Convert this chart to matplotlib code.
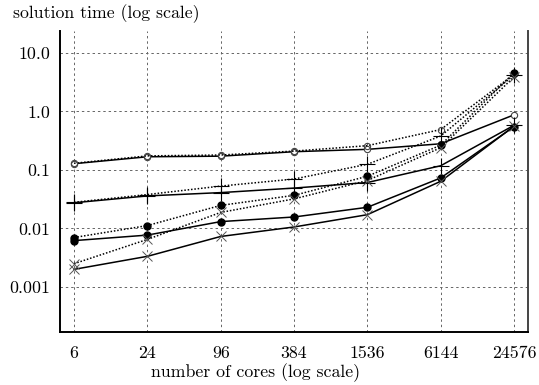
import matplotlib
matplotlib.use("Agg")
import matplotlib.pyplot as plt
from matplotlib.ticker import NullLocator

plt.rcParams["font.family"] = ["cmr10", "DejaVu Serif"]
plt.rcParams["axes.formatter.use_mathtext"] = True

CORES = [6, 24, 96, 384, 1536, 6144, 24576]
CORE_LABELS = ["6", "24", "96", "384", "1536", "6144", "24576"]
Y_TICKS = [0.001, 0.01, 0.1, 1.0, 10.0]
Y_LABELS = ["0.001", "0.01", "0.1", "1.0", "10.0"]

# solid lines
circle_open_solid = [0.128, 0.168, 0.172, 0.205, 0.225, 0.28, 0.875]
plus_solid = [0.0275, 0.036, 0.041, 0.049, 0.061, 0.118, 0.58]
circle_filled_solid = [0.0062, 0.0077, 0.0131, 0.0157, 0.023, 0.073, 0.55]
cross_solid = [0.002, 0.00334, 0.0073, 0.0106, 0.0172, 0.064, 0.56]

# dotted lines
circle_open_dotted = [0.13, 0.174, 0.18, 0.21, 0.26, 0.49, 4.3]
plus_dotted = [0.028, 0.038, 0.053, 0.07, 0.125, 0.38, 4.2]
circle_filled_dotted = [0.007, 0.0112, 0.0248, 0.0368, 0.078, 0.265, 4.6]
cross_dotted = [0.0025, 0.0065, 0.0188, 0.032, 0.066, 0.24, 3.9]

FONT_SIZE = 12.8

fig = plt.figure(figsize=(5.39, 3.85), dpi=100)
ax = fig.add_axes([60 / 539, 1 - 332 / 385, 468 / 539, 301 / 385])

ax.set_xscale("log")
ax.set_yscale("log")

line_kw = dict(color="black", linewidth=1.1)
dot_kw = dict(color="black", linewidth=1.1, linestyle=(0, (1, 1.2)))

ax.plot(CORES, circle_open_solid, marker="o", markersize=4.5, markerfacecolor="white",
        markeredgecolor="#444444", markeredgewidth=0.8, **line_kw)
ax.plot(CORES, circle_open_dotted, marker="o", markersize=4.5, markerfacecolor="none",
        markeredgecolor="#444444", markeredgewidth=0.8, **dot_kw)
ax.plot(CORES, plus_solid, marker="+", markersize=11, markeredgewidth=0.8, **line_kw)
ax.plot(CORES, plus_dotted, marker="+", markersize=11, markeredgewidth=0.8, **dot_kw)
ax.plot(CORES, circle_filled_solid, marker="o", markersize=5, **line_kw)
ax.plot(CORES, circle_filled_dotted, marker="o", markersize=5, **dot_kw)
ax.plot(CORES, cross_solid, marker="x", markersize=7, markeredgewidth=0.7,
        markeredgecolor="#555555", **line_kw)
ax.plot(CORES, cross_dotted, marker="x", markersize=7, markeredgewidth=0.7,
        markeredgecolor="#555555", **dot_kw)

ax.set_xlim(4.6, 32000)
ax.set_ylim(0.00017, 23.7)

ax.set_xticks(CORES, CORE_LABELS)
ax.set_yticks(Y_TICKS, Y_LABELS)
ax.xaxis.set_minor_locator(NullLocator())
ax.yaxis.set_minor_locator(NullLocator())
ax.tick_params(axis="both", length=0, labelsize=FONT_SIZE)
ax.tick_params(axis="x", pad=10)
ax.tick_params(axis="y", pad=7)

ax.grid(True, color="#666666", linewidth=0.7, linestyle=(0, (2.5, 3)))
ax.set_axisbelow(True)

ax.spines["top"].set_visible(False)
for side in ("left", "bottom", "right"):
    ax.spines[side].set_linewidth(1.4)
ax.spines["right"].set_color("#444444")

fig.text(13 / 539, 1 - 14 / 385, "solution time (log scale)", ha="left", va="center",
         fontsize=FONT_SIZE)
fig.text(256 / 539, 1 - 373 / 385, "number of cores (log scale)", ha="center",
         va="center", fontsize=FONT_SIZE)

fig.savefig("out.png", dpi=100)
